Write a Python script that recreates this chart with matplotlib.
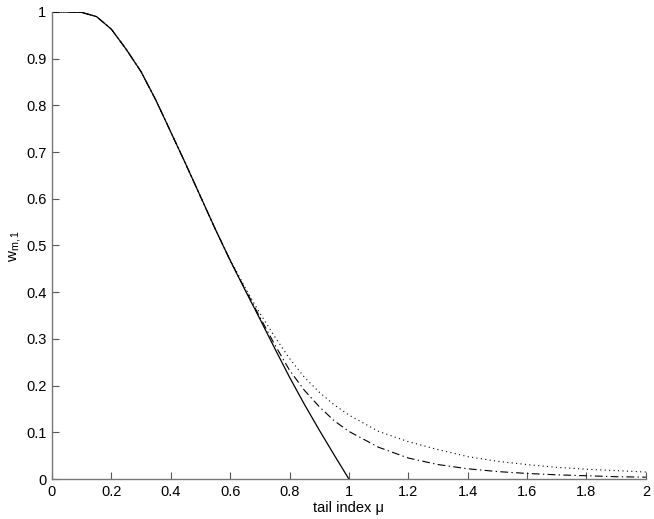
import numpy as np
import matplotlib
matplotlib.use("Agg")
import matplotlib.pyplot as plt

plt.rcParams['font.family'] = ['Liberation Sans', 'DejaVu Sans']
plt.rcParams['mathtext.fontset'] = 'custom'
plt.rcParams['mathtext.rm'] = 'Liberation Sans'
plt.rcParams['mathtext.it'] = 'Liberation Sans'

# solid curve (limit case), drops to zero at mu = 1
mu_solid = [0, 0.05, 0.1, 0.15, 0.2, 0.25, 0.3, 0.35, 0.4, 0.45, 0.5,
            0.55, 0.6, 0.65, 0.7, 0.75, 0.8, 0.85, 0.9, 0.95, 1.0]
w_solid = [1.0, 1.0, 0.999, 0.990, 0.963, 0.920, 0.872, 0.811, 0.743, 0.675, 0.605,
           0.535, 0.468, 0.405, 0.343, 0.280, 0.218, 0.160, 0.105, 0.052, 0.0]

# dash-dot and dotted curves split off from the solid one near mu = 0.6
mu_tail = [0.6, 0.65, 0.7, 0.75, 0.8, 0.85, 0.9, 0.95, 1.0, 1.1, 1.2, 1.3,
           1.4, 1.5, 1.6, 1.7, 1.8, 1.9, 2.0]
w_dashdot = [0.468, 0.407, 0.347, 0.288, 0.233, 0.190, 0.155, 0.125, 0.102, 0.068,
             0.045, 0.031, 0.022, 0.016, 0.012, 0.009, 0.007, 0.005, 0.004]
w_dotted = [0.470, 0.410, 0.355, 0.305, 0.258, 0.218, 0.186, 0.159, 0.137, 0.102,
            0.080, 0.063, 0.048, 0.038, 0.031, 0.025, 0.021, 0.018, 0.015]

x_ticks = [0, 0.2, 0.4, 0.6, 0.8, 1, 1.2, 1.4, 1.6, 1.8, 2]
x_labels = ["0", "0.2", "0.4", "0.6", "0.8", "1", "1.2", "1.4", "1.6", "1.8", "2"]
y_ticks = [0, 0.1, 0.2, 0.3, 0.4, 0.5, 0.6, 0.7, 0.8, 0.9, 1]
y_labels = ["0", "0.1", "0.2", "0.3", "0.4", "0.5", "0.6", "0.7", "0.8", "0.9", "1"]

fig = plt.figure(figsize=(6.54, 5.19), dpi=100)
ax = fig.add_axes([0.0795, 0.077, 0.908, 0.9])

# prepend shared part so the tail curves start on the solid line
mu_dd = mu_solid[:12] + mu_tail
ax.plot(mu_dd, w_solid[:12] + w_dashdot, color='black', lw=0.8,
        linestyle=(0, (7, 3, 1.2, 3)))
ax.plot(mu_dd, w_solid[:12] + w_dotted, color='black', lw=0.8,
        linestyle=(0, (1, 3)))
ax.plot(mu_solid, w_solid, color='black', lw=0.9)

ax.set_xlim(0, 2)
ax.set_ylim(0, 1)
ax.set_xticks(x_ticks)
ax.set_xticklabels(x_labels)
ax.set_yticks(y_ticks)
ax.set_yticklabels(y_labels)
ax.tick_params(direction='in', length=5, width=0.8, labelsize=10.5, color='#555555', pad=4)
for s in ['top', 'right']:
    ax.spines[s].set_visible(False)
for s in ['left', 'bottom']:
    ax.spines[s].set_color('#777777')
    ax.spines[s].set_linewidth(1.0)

ax.set_xlabel("tail index \u03bc", fontsize=10.5, labelpad=2)
ax.set_ylabel(r"$\mathregular{w_{m,1}}$", fontsize=11, labelpad=2)

fig.savefig("out.png", dpi=100)
